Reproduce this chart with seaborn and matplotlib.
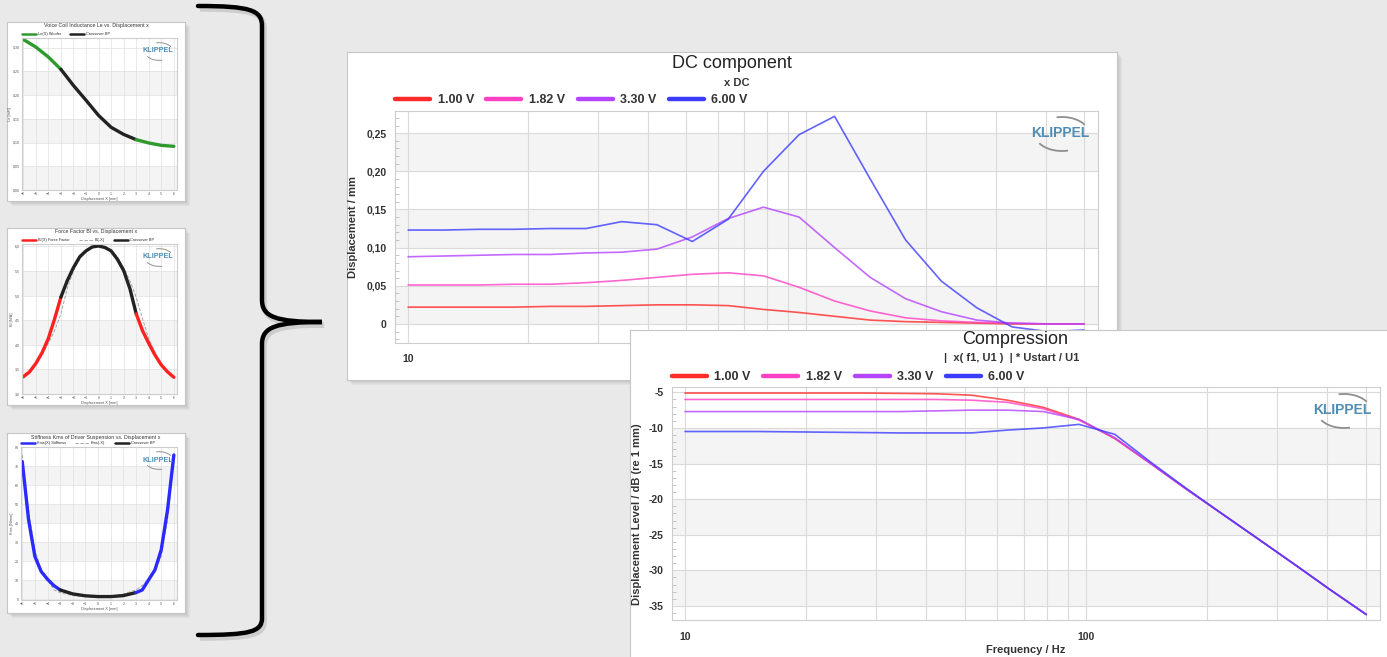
import numpy as np
import pandas as pd
import matplotlib
matplotlib.use("Agg")
import matplotlib.pyplot as plt
import seaborn as sns
from matplotlib.lines import Line2D
from matplotlib.patches import Rectangle, Arc, PathPatch
from matplotlib.path import Path
from matplotlib.ticker import FixedLocator, NullFormatter, FuncFormatter

W, H = 1387, 657

# ---- data ----
freqs = [10.0, 12.3, 15.1, 18.5, 22.8, 28.0, 34.4, 42.2, 51.8, 63.7,
         78.2, 96.1, 118, 145, 178, 219, 269, 330, 406, 500]
volt_labels = ["1.00 V", "1.82 V", "3.30 V", "6.00 V"]
volt_colors = ["#ff2a2a", "#ff40c4", "#b444ff", "#3c3cff"]

dc_100 = [0.022, 0.022, 0.022, 0.022, 0.023, 0.023, 0.024, 0.025, 0.025, 0.024,
          0.019, 0.015, 0.010, 0.005, 0.003, 0.002, 0.001, 0.000, 0.000, 0.000]
dc_182 = [0.051, 0.051, 0.051, 0.052, 0.052, 0.054, 0.057, 0.061, 0.065, 0.067,
          0.063, 0.048, 0.030, 0.017, 0.008, 0.004, 0.002, 0.001, 0.000, 0.000]
dc_330 = [0.088, 0.089, 0.090, 0.091, 0.091, 0.093, 0.094, 0.098, 0.114, 0.138,
          0.153, 0.140, 0.100, 0.061, 0.033, 0.016, 0.005, 0.001, 0.000, 0.000]
dc_600 = [0.123, 0.123, 0.124, 0.124, 0.125, 0.125, 0.134, 0.130, 0.108, 0.137,
          0.200, 0.248, 0.272, 0.190, 0.110, 0.056, 0.021, -0.004, -0.010, -0.008]

cp_100 = [-5.1, -5.1, -5.1, -5.1, -5.1, -5.1, -5.15, -5.2, -5.4, -6.1,
          -7.1, -8.8, -11.5, -15.0, -18.6, -22.1, -25.6, -29.1, -32.7, -36.2]
cp_182 = [-6.0, -6.0, -6.0, -6.0, -6.0, -6.0, -6.0, -6.0, -6.1, -6.4,
          -7.3, -8.9, -11.4, -15.0, -18.6, -22.1, -25.6, -29.1, -32.7, -36.2]
cp_330 = [-7.7, -7.7, -7.7, -7.7, -7.7, -7.7, -7.7, -7.6, -7.5, -7.5,
          -7.7, -8.8, -11.4, -15.0, -18.6, -22.1, -25.6, -29.1, -32.7, -36.2]
cp_600 = [-10.5, -10.5, -10.5, -10.55, -10.6, -10.65, -10.7, -10.7, -10.7, -10.3,
          -10.0, -9.5, -10.9, -14.8, -18.5, -22.1, -25.6, -29.1, -32.7, -36.2]

# thumbnails
le_x = [-6, -5, -4, -3, -2, -1, 0, 1, 2, 3, 4, 5, 6]
le_mh = [0.317, 0.301, 0.280, 0.254, 0.220, 0.189, 0.157, 0.132, 0.117, 0.106, 0.099, 0.094, 0.092]
bl_x = [-6, -5.5, -5, -4.5, -4, -3.5, -3, -2.5, -2, -1.5, -1, -0.5, 0,
        0.5, 1, 1.5, 2, 2.5, 3, 3.5, 4, 4.5, 5, 5.5, 6]
bl_na = [3.35, 3.45, 3.62, 3.84, 4.13, 4.53, 4.97, 5.30, 5.57, 5.79, 5.91, 5.99, 6.01,
         5.98, 5.91, 5.74, 5.51, 5.14, 4.63, 4.29, 4.03, 3.79, 3.59, 3.45, 3.34]
kms_x = [-6, -5.5, -5, -4.5, -4, -3.5, -3, -2, -1, 0, 1, 2, 3, 3.5, 4, 4.5, 5, 5.5, 6]
kms_nmm = [72.5, 41.8, 22.5, 14.6, 10.5, 7.2, 4.9, 2.8, 1.8, 1.4, 1.4, 1.9, 3.5, 4.9,
           10.2, 15.4, 26.0, 47.0, 76.0]

sns.set_theme(style="white")
plt.rcParams["font.family"] = ["Liberation Sans", "DejaVu Sans"]

fig = plt.figure(figsize=(W / 100, H / 100), dpi=100, facecolor="#e9e9e9")


def box(l, t, r, b):
    return [l / W, 1 - b / H, (r - l) / W, (b - t) / H]


def P(x, y):
    return (x / 100, (H - y) / 100)


def panel(l, t, r, b, z):
    for k in range(1, 6):
        fig.add_artist(Rectangle(P(l + k, b + k), (r - l) / 100, (b - t) / 100,
                                 transform=fig.dpi_scale_trans, facecolor="#7a7a7a",
                                 alpha=0.07, lw=0, zorder=z - 0.5))
    ax = fig.add_axes(box(l, t, r, b))
    ax.set_zorder(z)
    ax.set_facecolor("white")
    ax.set_xticks([])
    ax.set_yticks([])
    for s in ax.spines.values():
        s.set_color("#c6c6c6")
        s.set_linewidth(0.8)
    return ax


def logo(ax, cx, cy, s):
    ax.text(cx / W, 1 - cy / H, "KLIPPEL", transform=fig.transFigure, ha="center",
            va="center", fontsize=10 * s, fontweight="bold", color="#4f8db5", zorder=6)
    w, h = 54 * s, 34 * s
    for t1, t2 in [(22, 108), (202, 290)]:
        ax.add_artist(Arc(P(cx + 2 * s, cy + 1 * s), w / 100, h / 100, theta1=t1, theta2=t2,
                          transform=fig.dpi_scale_trans, color="#8e8e8e", lw=1.3 * s, zorder=6))


def style_plot(ax, bands, z):
    ax.set_zorder(z)
    ax.set_facecolor("white")
    for lo, hi in bands:
        ax.axhspan(lo, hi, color="#f4f4f4", lw=0, zorder=0)
    ax.set_axisbelow(True)
    for s in ax.spines.values():
        s.set_color("#cdcdcd")
        s.set_linewidth(0.8)


def freq_axis(ax, xlim):
    ax.set_xscale("log")
    ax.set_xlim(*xlim)
    ax.xaxis.set_major_locator(FixedLocator([10, 100]))
    ax.xaxis.set_minor_locator(FixedLocator([20, 30, 40, 50, 60, 70, 80, 90,
                                             200, 300, 400, 500]))
    ax.xaxis.set_major_formatter(FuncFormatter(lambda v, p: f"{v:g}"))
    ax.xaxis.set_minor_formatter(NullFormatter())
    ax.grid(axis="x", which="both", color="#dadada", lw=0.8)
    ax.grid(axis="y", which="major", color="#dadada", lw=0.8)
    ax.tick_params(axis="x", which="both", length=0, labelsize=7.5, labelcolor="#333333")
    ax.tick_params(axis="y", which="major", length=0, labelsize=7.5, labelcolor="#333333")
    ax.tick_params(axis="y", which="minor", length=3, width=0.6, color="#bdbdbd",
                   direction="in", left=True)
    for lab in ax.get_xticklabels() + ax.get_yticklabels():
        lab.set_fontweight("bold")


def volt_legend(ax, x, y):
    handles = [Line2D([], [], color=c, lw=3.2) for c in volt_colors]
    leg = ax.legend(handles, volt_labels, loc="center left", bbox_to_anchor=(x / W, 1 - y / H),
                    bbox_transform=fig.transFigure, ncol=4, frameon=False,
                    prop={"size": 9, "weight": "bold"}, handlelength=2.8,
                    handletextpad=0.6, columnspacing=1.0, borderpad=0, borderaxespad=0)
    for t in leg.get_texts():
        t.set_color("#333333")


# ---- curly brace ----
verts = [P(198, 6), P(250, 6), P(262, 10), P(262, 26), P(262, 300),
         P(262, 317), P(276, 322), P(322, 322),
         P(276, 322), P(262, 327), P(262, 344), P(262, 618),
         P(262, 632), P(250, 635), P(198, 635)]
codes = [Path.MOVETO, Path.CURVE4, Path.CURVE4, Path.CURVE4, Path.LINETO,
         Path.CURVE4, Path.CURVE4, Path.CURVE4,
         Path.CURVE4, Path.CURVE4, Path.CURVE4, Path.LINETO,
         Path.CURVE4, Path.CURVE4, Path.CURVE4]
brace = Path(verts, codes)
fig.add_artist(PathPatch(brace.transformed(matplotlib.transforms.Affine2D().translate(0.02, -0.03)),
                         transform=fig.dpi_scale_trans, facecolor="none",
                         edgecolor="#9a9a9a", lw=4, alpha=0.35, zorder=0.5))
fig.add_artist(PathPatch(brace, transform=fig.dpi_scale_trans, facecolor="none",
                         edgecolor="black", lw=3.2, capstyle="round", zorder=0.6))


# ---- thumbnails ----
def thumb(pbox, abox, xs, ys, color, title, names, ylabel, yticks, ylim, fmt, mirror):
    pan = panel(*pbox, z=1)
    ax = fig.add_axes(box(*abox))
    bands = [(yticks[i], yticks[i + 1]) for i in range(0, len(yticks) - 1, 2)]
    style_plot(ax, bands, 2)
    df = pd.DataFrame({"x": xs, "y": ys})
    parts = pd.concat([df[df.x <= -3].assign(part="a"),
                       df[(df.x >= -3) & (df.x <= 3)].assign(part="b"),
                       df[df.x >= 3].assign(part="c")])
    if mirror:
        sns.lineplot(x=[-v for v in xs], y=ys, color="#9b9b9b", lw=0.6,
                     linestyle=(0, (4, 2)), ax=ax)
    sns.lineplot(data=parts, x="x", y="y", hue="part",
                 palette={"a": color, "b": "#222222", "c": color},
                 lw=2.4, legend=False, ax=ax)
    ax.set_xlim(-6.1, 6.25)
    ax.set_ylim(*ylim)
    ax.set_xticks(le_x)
    ax.set_yticks(yticks)
    ax.yaxis.set_major_formatter(FuncFormatter(fmt))
    ax.grid(color="#e0e0e0", lw=0.5)
    ax.tick_params(length=0, pad=1.5, labelsize=2.6, labelcolor="#555555")
    ax.set_xlabel("Displacement X [mm]", fontsize=2.8, labelpad=1, color="#555555")
    ax.set_ylabel(ylabel, fontsize=2.8, labelpad=1, color="#555555")
    pan.text((pbox[0] + pbox[2]) / 2 / W, 1 - (pbox[1] + 4) / H, title,
             transform=fig.transFigure, ha="center", va="center", fontsize=3.8, color="#333333")
    handles = [Line2D([], [], color=color, lw=1.8)]
    if mirror:
        handles.append(Line2D([], [], color="#9b9b9b", lw=0.6, linestyle=(0, (4, 2))))
    handles.append(Line2D([], [], color="#222222", lw=1.8))
    ax.legend(handles, names, loc="center left", bbox_to_anchor=(abox[0] / W, 1 - (abox[1] - 4) / H),
              bbox_transform=fig.transFigure, ncol=3, frameon=False, prop={"size": 2.8},
              handlelength=3.5, handletextpad=0.5, columnspacing=2.5, borderpad=0, borderaxespad=0)
    logo(ax, 158, abox[1] + 13, 0.52)


thumb((7, 22, 185, 201), (22, 38, 177, 190), le_x, le_mh, "#2e9a2e",
      "Voice Coil Inductance Le vs. Displacement x", ["Le(X) Woofer", "Crossover BP"],
      "Le [mH]", [0, 0.05, 0.10, 0.15, 0.20, 0.25, 0.30], (0, 0.32),
      lambda v, p: f"{v:.2f}".replace(".", ","), False)
thumb((7, 228, 185, 405), (22, 244, 177, 394), bl_x, bl_na, "#ff2020",
      "Force Factor Bl vs. Displacement x", ["Bl(X) Force Factor", "Bl(-X)", "Crossover BP"],
      "Bl [N/A]", [3.0, 3.5, 4.0, 4.5, 5.0, 5.5, 6.0], (3.0, 6.05),
      lambda v, p: f"{v:.1f}".replace(".", ","), True)
thumb((7, 433, 185, 613), (21, 447, 177, 600), kms_x, kms_nmm, "#2a2aff",
      "Stiffness Kms of Driver Suspension vs. Displacement x",
      ["Kms(X) Stiffness", "Kms(-X)", "Crossover BP"],
      "Kms [N/mm]", [0, 10, 20, 30, 40, 50, 60, 70, 80], (-0.4, 80.2),
      lambda v, p: f"{v:g}", True)

# ---- DC component ----
dc_pan = panel(347, 52, 1117, 380, z=3)
dc_pan.text(732 / W, 1 - 63 / H, "DC component", transform=fig.transFigure,
            ha="center", va="center", fontsize=13, color="#222222")
dc_pan.text(737 / W, 1 - 83 / H, "x DC", transform=fig.transFigure,
            ha="center", va="center", fontsize=8, fontweight="bold", color="#333333")

dc_df = pd.DataFrame({"freq": freqs * 4,
                      "disp": dc_100 + dc_182 + dc_330 + dc_600,
                      "level": np.repeat(volt_labels, len(freqs))})
ax1 = fig.add_axes(box(395, 111, 1098, 343))
style_plot(ax1, [(0, 0.05), (0.10, 0.15), (0.20, 0.25)], 4)
ax1.set_xscale("log")
sns.lineplot(data=dc_df, x="freq", y="disp", hue="level", palette=volt_colors,
             lw=1.2, alpha=0.8, legend=False, ax=ax1)
ax1.set_ylim(-0.025, 0.279)
ax1.set_yticks([0, 0.05, 0.10, 0.15, 0.20, 0.25])
ax1.yaxis.set_minor_locator(FixedLocator([v / 100 for v in range(-2, 28)]))
ax1.yaxis.set_major_formatter(FuncFormatter(
    lambda v, p: "0" if abs(v) < 1e-9 else f"{v:.2f}".replace(".", ",")))
freq_axis(ax1, (9.27, 542))
ax1.tick_params(axis="x", pad=8)
ax1.tick_params(axis="y", pad=6)
ax1.set_xlabel("")
ax1.set_ylabel("Displacement / mm", fontsize=8, fontweight="bold", color="#333333")
ax1.yaxis.set_label_coords(-0.052, 0.5)
volt_legend(ax1, 395, 100)
logo(ax1, 1060, 133, 1.0)

# ---- Compression ----
cp_pan = panel(630, 330, 1400, 680, z=5)
cp_pan.text(1015 / W, 1 - 340 / H, "Compression", transform=fig.transFigure,
            ha="center", va="center", fontsize=13, color="#222222")
cp_pan.text(1012 / W, 1 - 358 / H, "|  x( f1, U1 )  | * Ustart / U1", transform=fig.transFigure,
            ha="center", va="center", fontsize=8, fontweight="bold", color="#333333")

cp_df = pd.DataFrame({"freq": freqs * 4,
                      "level_db": cp_100 + cp_182 + cp_330 + cp_600,
                      "level": np.repeat(volt_labels, len(freqs))})
ax2 = fig.add_axes(box(672, 387, 1380, 620))
style_plot(ax2, [(-15, -10), (-25, -20), (-35, -30)], 6)
ax2.set_xscale("log")
sns.lineplot(data=cp_df, x="freq", y="level_db", hue="level", palette=volt_colors,
             lw=1.2, alpha=0.8, legend=False, ax=ax2)
ax2.set_ylim(-36.97, -4.25)
ax2.set_yticks([-5, -10, -15, -20, -25, -30, -35])
ax2.yaxis.set_minor_locator(FixedLocator(list(range(-36, -4))))
ax2.yaxis.set_major_formatter(FuncFormatter(lambda v, p: f"{v:.0f}"))
freq_axis(ax2, (9.28, 541))
ax2.tick_params(axis="x", pad=9)
ax2.tick_params(axis="y", pad=6)
ax2.set_xlabel("Frequency / Hz", fontsize=8, fontweight="bold", color="#333333")
ax2.xaxis.set_label_coords(0.5, -0.107)
ax2.set_ylabel("Displacement Level / dB (re 1 mm)", fontsize=8, fontweight="bold", color="#333333")
ax2.yaxis.set_label_coords(-0.043, 0.455)
volt_legend(ax2, 672, 377)
logo(ax2, 1342, 410, 1.0)

fig.savefig("out.png", dpi=100, facecolor=fig.get_facecolor())
